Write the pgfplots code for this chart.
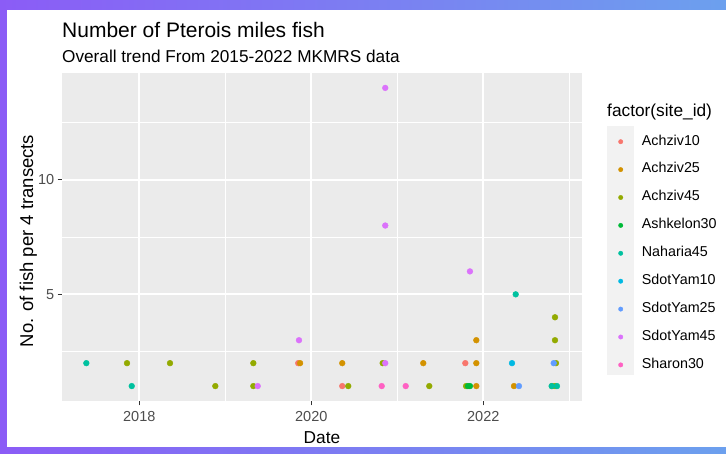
\documentclass[border=0pt]{standalone}
\usepackage{fontspec}
\setmainfont{Liberation Sans}
\usepackage{pgfplots}
\pgfplotsset{compat=1.18}
\definecolor{c1}{HTML}{F8766D}
\definecolor{c2}{HTML}{D39200}
\definecolor{c3}{HTML}{93AA00}
\definecolor{c4}{HTML}{00BA38}
\definecolor{c5}{HTML}{00C19F}
\definecolor{c6}{HTML}{00B9E3}
\definecolor{c7}{HTML}{619CFF}
\definecolor{c8}{HTML}{DB72FB}
\definecolor{c9}{HTML}{FF61C3}
\definecolor{panelbg}{HTML}{EBEBEB}
\definecolor{keybg}{HTML}{F2F2F2}
\definecolor{grey20}{HTML}{333333}
\definecolor{grey30}{HTML}{4D4D4D}
\definecolor{bgL}{HTML}{8B5CF6}
\definecolor{bgR}{HTML}{6CA0EE}
\begin{document}
\begin{tikzpicture}[x=1pt,y=1pt]
\useasboundingbox (0,0) rectangle (726,454);
\shade[left color=bgL, right color=bgR] (0,0) rectangle (726,454);
\fill[white] (7,7) rectangle (726,444);
\fill[keybg] (607,79) rectangle (634,328);
\node[anchor=base west, inner sep=0pt, font=\fontsize{21}{21}\selectfont] at (62,416) {Number of Pterois miles fish};
\node[anchor=base west, inner sep=0pt, font=\fontsize{17.2}{17.2}\selectfont] at (62,391.5) {Overall trend From 2015-2022 MKMRS data};
\node[anchor=base, inner sep=0pt, font=\fontsize{17.3}{17.3}\selectfont] at (322,10) {Date};
\node[anchor=base, rotate=90, inner sep=0pt, font=\fontsize{18.5}{18.5}\selectfont] at (33,213) {No. of fish per 4 transects};
\node[anchor=base west, inner sep=0pt, font=\fontsize{17.3}{17.3}\selectfont] at (607,337) {factor(site\_id)};
\begin{axis}[
  at={(62pt,53pt)}, anchor=south west, scale only axis,
  width=520pt, height=328pt,
  xmin=2017.101, xmax=2023.148, ymin=0.35, ymax=14.65,
  axis background/.style={fill=panelbg},
  axis line style={draw=none},
  tick pos=left, tick align=outside,
  major tick length=4.4pt, minor tick length=0pt,
  tick style={color=grey20, line width=1pt},
  xtick={2018,2020,2022}, xticklabels={2018,2020,2022},
  minor xtick={2019,2021,2023},
  ytick={5,10}, yticklabels={5,10},
  minor ytick={2.5,7.5,12.5},
  grid=both,
  major grid style={white, line width=1.7pt},
  minor grid style={white, line width=0.85pt},
  /pgf/number format/assume math mode=true,
  ticklabel style={font=\fontsize{14.5}{14.5}\selectfont, text=grey30, inner sep=0pt},
  xticklabel style={anchor=north, yshift=-6.1pt},
  yticklabel style={anchor=east, xshift=-3.1pt},
  legend style={at={(1.0702,0.8009)}, anchor=north west, draw=none, fill=none,
    inner sep=0pt, outer sep=0pt, row sep=21.1pt, column sep=19pt,
    nodes={inner sep=0pt, text height=6.8pt, text depth=0pt, font=\fontsize{14.3}{14.3}\selectfont}},
  legend cell align=left,
  legend image code/.code={\draw[#1, mark size=2.2pt] plot coordinates {(0pt,0pt)};},
  every axis plot/.append style={only marks, mark=*, mark size=2.9pt},
]
\addplot[color=c1] coordinates {(2019.848,2) (2020.360,1) (2021.791,2)};
\addlegendentry{Achziv10}
\addplot[color=c2] coordinates {(2019.87,2) (2020.360,2) (2021.302,2) (2021.919,3) (2021.919,2) (2021.919,1) (2022.357,1) (2022.80,1)};
\addlegendentry{Achziv25}
\addplot[color=c3] coordinates {(2017.857,2) (2018.357,2) (2018.884,1) (2019.326,2) (2019.326,1) (2020.43,1) (2020.83,2) (2021.372,1) (2021.80,1) (2022.834,4) (2022.834,3) (2022.846,2) (2022.834,1)};
\addlegendentry{Achziv45}
\addplot[color=c4] coordinates {(2021.822,1) (2021.845,1)};
\addlegendentry{Ashkelon30}
\addplot[color=c5] coordinates {(2017.384,2) (2017.912,1) (2022.377,5) (2022.795,1) (2022.857,1)};
\addlegendentry{Naharia45}
\addplot[color=c6] coordinates {(2022.334,2)};
\addlegendentry{SdotYam10}
\addplot[color=c7] coordinates {(2022.819,2) (2022.415,1)};
\addlegendentry{SdotYam25}
\addplot[color=c8] coordinates {(2019.857,3) (2019.377,1) (2020.86,14) (2020.86,8) (2020.86,2) (2021.845,6)};
\addlegendentry{SdotYam45}
\addplot[color=c9] coordinates {(2020.819,1) (2021.098,1)};
\addlegendentry{Sharon30}
\end{axis}
\end{tikzpicture}
\end{document}
